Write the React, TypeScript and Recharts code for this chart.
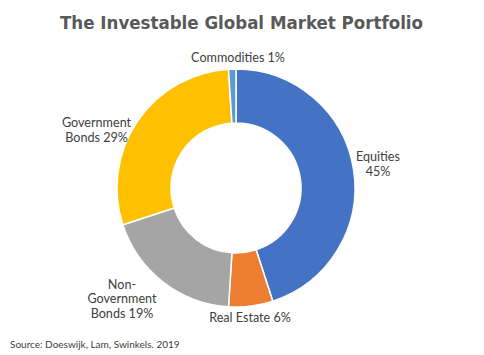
import React from "react";
import { PieChart, Pie, Cell } from "recharts";

const categories = ["Equities", "Real Estate", "Non-Government Bonds", "Government Bonds", "Commodities"];
const values = [45, 6, 19, 29, 1];
const labelLines = [["Equities", "45%"], ["Real Estate 6%"], ["Non-", "Government", "Bonds 19%"], ["Government", "Bonds 29%"], ["Commodities 1%"]];
const colors = ["#4472C4", "#ED7D31", "#A5A5A5", "#FFC000", "#5B9BD5"];
const titleText = "The Investable Global Market Portfolio";
const sourceText = "Source: Doeswijk, Lam, Swinkels. 2019";

const data = categories.map((name, i) => ({ name, value: values[i], lines: labelLines[i] }));

const RAD = Math.PI / 180;
const LH = 14.6;
const labelNudge: Record<string, [number, number]> = {
  "Equities": [4.7, -4.8],
  "Real Estate": [-3.4, -4.2],
  "Non-Government Bonds": [-28.8, -9.0],
  "Government Bonds": [-24.5, 17.6],
  "Commodities": [6.4, 12.6],
};

const renderLabel = (props: any) => {
  const { cx, cy, midAngle, outerRadius, payload, name } = props;
  const key = (payload && payload.name) || name;
  const lines: string[] = (payload && payload.lines) || [key];
  const r = outerRadius + 20;
  const [dx, dy] = labelNudge[key] || [0, 0];
  const x = cx + r * Math.cos(-midAngle * RAD) + dx;
  const y = cy + r * Math.sin(-midAngle * RAD) + dy;
  return (
    <g>
      {lines.map((l, i) => (
        <text key={i} x={x} y={y + i * LH} textAnchor="middle" fill="#404040" fontFamily="Lato" fontSize={12.6}>
          {l}
        </text>
      ))}
    </g>
  );
};

export default function App() {
  return (
    <div style={{ position: "absolute", left: 0, top: 0, width: 484, height: 355, background: "#fff" }}>
      <PieChart width={484} height={355} margin={{ top: 0, right: 0, bottom: 0, left: 0 }}>
        <Pie
          data={data}
          dataKey="value"
          nameKey="name"
          cx={236}
          cy={188}
          innerRadius={65}
          outerRadius={119}
          startAngle={90}
          endAngle={-270}
          stroke="#ffffff"
          strokeWidth={1.5}
          label={renderLabel}
          labelLine={false}
          isAnimationActive={false}
        >
          {data.map((d, i) => (
            <Cell key={d.name} fill={colors[i]} />
          ))}
        </Pie>
      </PieChart>
      <svg width={484} height={355} style={{ position: "absolute", left: 0, top: 0, pointerEvents: "none" }}>
        <text x={241.5} y={29} textAnchor="middle" fill="#595959" fontFamily="DejaVu Sans" fontWeight="bold" fontSize={18} textLength={363} lengthAdjust="spacingAndGlyphs">
          {titleText}
        </text>
        <text x={10} y={348} fill="#404040" fontFamily="Lato" fontSize={10}>
          {sourceText}
        </text>
      </svg>
    </div>
  );
}
